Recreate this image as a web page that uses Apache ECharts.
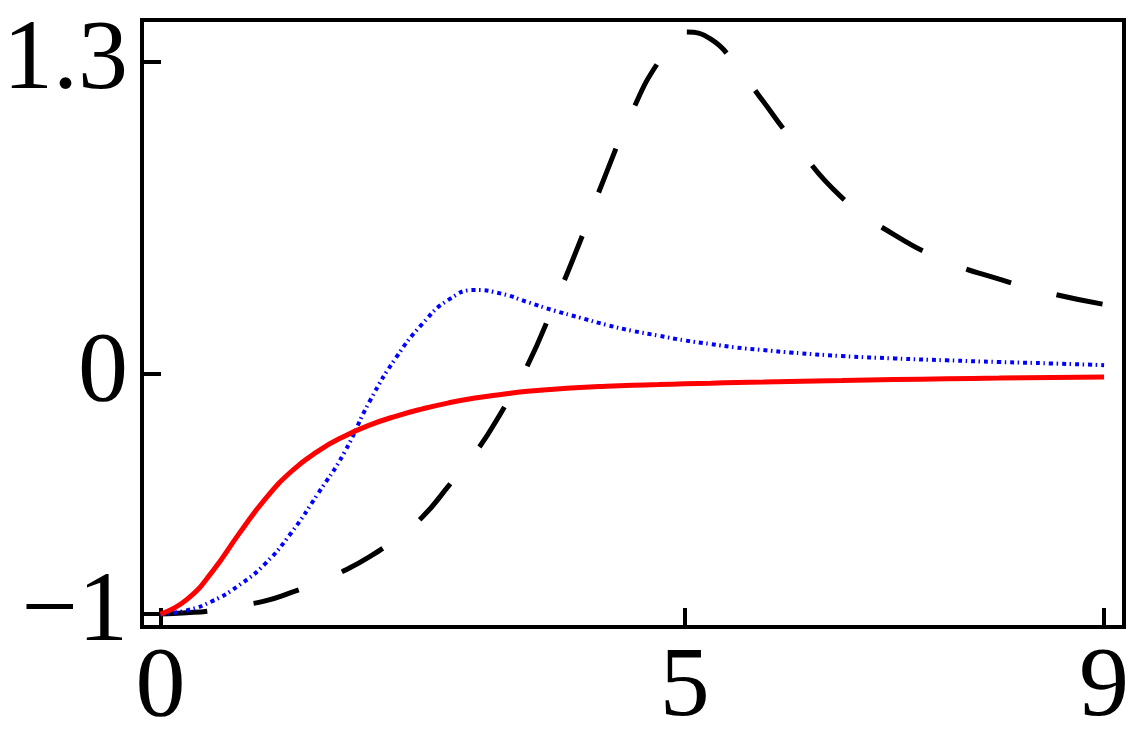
<!DOCTYPE html>
<html>
<head>
<meta charset="utf-8">
<script src="https://cdn.jsdelivr.net/npm/echarts@6/dist/echarts.min.js"></script>
<style>
  html, body { margin: 0; padding: 0; background: #fff; }
  #chart { width: 1132px; height: 756px; }
</style>
</head>
<body>
<div id="chart"></div>
<script>
// sample positions along x
const xs = [0, 0.25, 0.5, 0.75, 1, 1.25, 1.5, 1.75, 2, 2.25, 2.5, 2.75, 3, 3.25, 3.5, 3.75,
  4, 4.25, 4.5, 4.75, 5, 5.25, 5.5, 5.75, 6, 6.5, 7, 7.5, 8, 8.5, 9]

// solid red curve
const redVals = [-1, -0.94, -0.82, -0.665, -0.52, -0.405, -0.322, -0.26, -0.212, -0.175, -0.145, -0.12,
  -0.10, -0.085, -0.072, -0.063, -0.056, -0.051, -0.047, -0.044, -0.041, -0.038, -0.035, -0.033,
  -0.031, -0.027, -0.023, -0.020, -0.017, -0.014, -0.012]

// dot-dashed blue curve
const blueVals = [-1, -0.985, -0.945, -0.88, -0.79, -0.66, -0.50, -0.33, -0.11, 0.07, 0.21, 0.31,
  0.35, 0.335, 0.30, 0.265, 0.235, 0.205, 0.18, 0.16, 0.14, 0.125, 0.11, 0.10,
  0.09, 0.075, 0.065, 0.057, 0.05, 0.044, 0.037]

// dashed black curve
const blackVals = [-1, -0.995, -0.985, -0.965, -0.945, -0.91, -0.87, -0.82, -0.76, -0.685, -0.595, -0.465,
  -0.33, -0.16, 0.035, 0.285, 0.55, 0.835, 1.095, 1.30, 1.425, 1.395, 1.28, 1.135,
  0.99, 0.735, 0.58, 0.47, 0.395, 0.335, 0.29]

const xTicks = [0, 5, 9]
const yTicks = [-1, 0, 1.3]

function pairs(vals) {
  return xs.map((x, i) => [x, vals[i]])
}

const chart = echarts.init(document.getElementById('chart'))
const labelFont = {
  fontFamily: 'Liberation Serif',
  fontSize: 100,
  color: '#000'
}
const option = {
  animation: false,
  backgroundColor: '#fff',
  grid: {
    left: 142,
    right: 8,
    top: 20,
    bottom: 129,
    outerBoundsMode: 'none',
    containLabel: false,
    show: true,
    borderColor: '#000',
    borderWidth: 4
  },
  xAxis: {
    type: 'value',
    min: -0.176,
    max: 9.19,
    splitLine: { show: false },
    axisLine: { show: true, onZero: false, lineStyle: { color: '#000', width: 4 } },
    axisTick: {
      show: true,
      inside: true,
      length: 19,
      customValues: xTicks,
      lineStyle: { color: '#000', width: 4 }
    },
    axisLabel: {
      ...labelFont,
      margin: 12,
      customValues: xTicks,
      formatter: (v) => String(v)
    }
  },
  yAxis: {
    type: 'value',
    min: -1.054,
    max: 1.475,
    splitLine: { show: false },
    axisLine: { show: true, onZero: false, lineStyle: { color: '#000', width: 4 } },
    axisTick: {
      show: true,
      inside: true,
      length: 19,
      customValues: yTicks,
      lineStyle: { color: '#000', width: 4 }
    },
    axisLabel: {
      ...labelFont,
      margin: 14,
      customValues: yTicks,
      formatter: (v) => (v < 0 ? '\u2212' + Math.abs(v) : String(v))
    }
  },
  series: [
    {
      name: 'black',
      type: 'line',
      smooth: 0.5,
      showSymbol: false,
      data: pairs(blackVals),
      lineStyle: { color: '#000', width: 5, type: [47, 47], cap: 'butt' }
    },
    {
      name: 'blue',
      type: 'line',
      smooth: 0.5,
      showSymbol: false,
      data: pairs(blueVals),
      lineStyle: { color: '#0000ff', width: 4, type: [4, 3.5, 1.5, 4], cap: 'butt' }
    },
    {
      name: 'red',
      type: 'line',
      smooth: 0.5,
      showSymbol: false,
      data: pairs(redVals),
      lineStyle: { color: '#ff0000', width: 5 }
    }
  ]
}
chart.setOption(option)
</script>
</body>
</html>
